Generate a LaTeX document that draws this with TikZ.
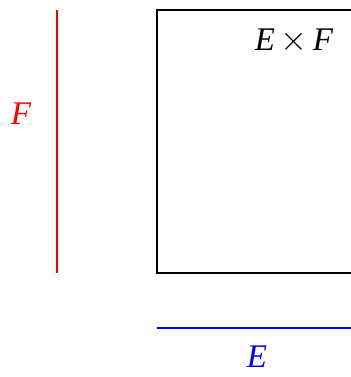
\documentclass[tikz,border=0pt]{standalone}
\usepackage{fontspec}
\setmainfont{Liberation Serif}
\begin{document}
\begin{tikzpicture}[x=0.5pt, y=0.5pt, line width=1pt, font=\fontsize{16.5}{19}\selectfont]
        \useasboundingbox (0,0) rectangle (351,377);
        \clip (0,0) rectangle (351,377);

        \draw (157,104) rectangle (430,367);
        \draw[red] (57,104) -- (57,367);
        \draw[blue] (157,49) -- (430,49);

        \node[red] (lblF) at (21,263) {\textit{F}};
        \node[blue] (lblE) at (257,20) {\textit{E}};
        \node (lblEF) at (294,336) {\textit{E}\,$\times$\,\textit{F}};
    \end{tikzpicture}
\end{document}
